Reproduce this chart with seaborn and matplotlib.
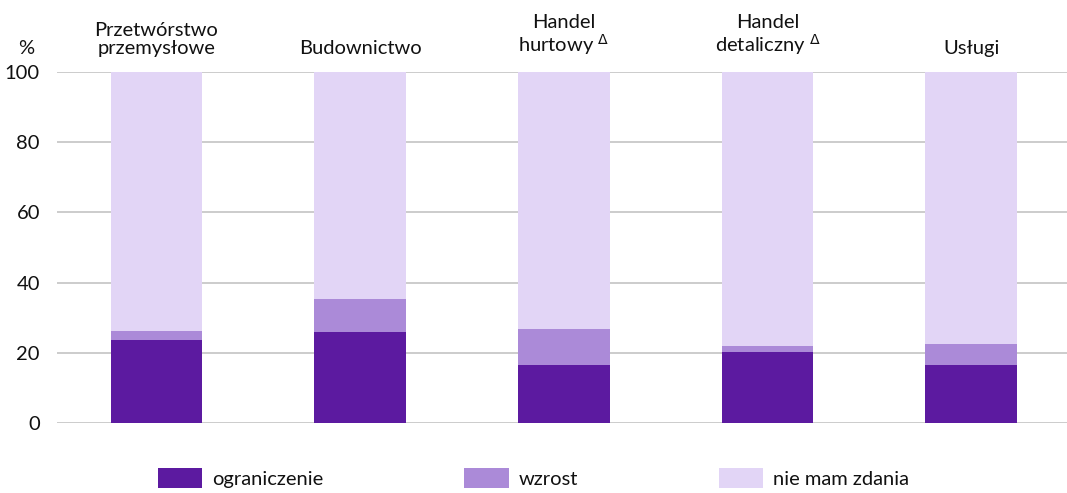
import matplotlib
matplotlib.use("Agg")
import matplotlib.pyplot as plt
import pandas as pd
import seaborn as sns
from matplotlib.patches import Patch

categories = ["Przetwórstwo\nprzemysłowe", "Budownictwo", "Handel\nhurtowy $^{\\Delta}$",
              "Handel\ndetaliczny $^{\\Delta}$", "Usługi"]
ograniczenie = [23.6, 25.8, 16.6, 20.1, 16.6]
wzrost = [2.6, 9.5, 10.2, 1.9, 5.9]
nie_mam_zdania = [73.8, 64.7, 73.2, 78.0, 77.5]
series_names = ["ograniczenie", "wzrost", "nie mam zdania"]
colors = ["#5c1aa0", "#ab8ad8", "#e2d5f6"]

sns.set_style("white")
plt.rcParams["font.family"] = ["Lato", "DejaVu Sans"]
plt.rcParams["mathtext.fontset"] = "dejavusans"
plt.rcParams["text.color"] = "#111111"
FS = 14.5

df = pd.DataFrame({"cat": range(len(categories)),
                   "ogr": ograniczenie, "wz": wzrost, "nmz": nie_mam_zdania})
df["top2"] = df["ogr"] + df["wz"]
df["top3"] = df["top2"] + df["nmz"]

fig = plt.figure(figsize=(10.67, 4.93), dpi=100)
ax = fig.add_axes([0.053, 0.142, 0.947, 0.712])

for col, c in zip(["top3", "top2", "ogr"], colors[::-1]):
    sns.barplot(data=df, x="cat", y=col, color=c, width=0.45, ax=ax,
                saturation=1, native_scale=True, linewidth=0, zorder=3)

ax.set_xlim(-0.49, 4.47)
ax.set_ylim(0, 100)
ax.set_yticks(range(0, 101, 20))
ax.tick_params(axis="y", labelsize=FS, length=0, pad=12, labelcolor="#111111")
ax.set_xticks([])
ax.set_xlabel("")
ax.set_ylabel("")
ax.grid(axis="y", color="#c8c8c8", linewidth=1.3, zorder=0)
ax.set_axisbelow(True)
for s in ax.spines.values():
    s.set_visible(False)

for i, lab in enumerate(categories):
    ax.text(i, 104.3, lab, ha="center", va="bottom", fontsize=FS,
            linespacing=1.05, clip_on=False)
ax.text(-0.6, 104.3, "%", ha="right", va="bottom", fontsize=FS, clip_on=False)

handles = [Patch(facecolor=c, edgecolor="none") for c in colors]
fig.legend(handles, series_names, loc="center", bbox_to_anchor=(0.5, 0.03),
           ncol=3, frameon=False, fontsize=FS, handlelength=2.2, handleheight=1.1,
           columnspacing=7.0, handletextpad=0.5)

fig.savefig("out.png", dpi=100)
